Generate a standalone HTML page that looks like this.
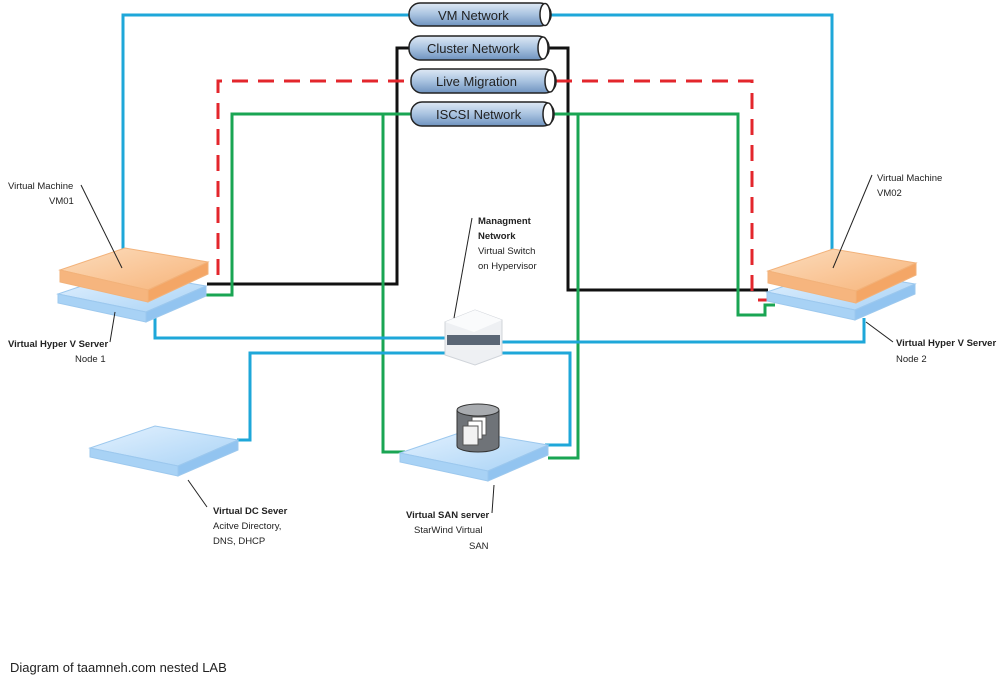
<!DOCTYPE html>
<html><head><meta charset="utf-8"><style>
body{margin:0;background:#fff;width:1001px;height:687px;overflow:hidden}
svg{display:block}
text{font-family:"Liberation Sans",sans-serif;font-size:9.5px;fill:#222}
.b{font-weight:bold}
</style></head><body>
<svg width="1001" height="687" viewBox="0 0 1001 687">
<defs>
<linearGradient id="pipe" x1="0" y1="0" x2="0" y2="1"><stop offset="0" stop-color="#dfe9f5"/><stop offset="0.5" stop-color="#a9c3e0"/><stop offset="1" stop-color="#6f93bf"/></linearGradient>
<linearGradient id="or" x1="0" y1="0" x2="1" y2="1"><stop offset="0" stop-color="#fcdcbc"/><stop offset="1" stop-color="#f7b47a"/></linearGradient>
<linearGradient id="bl" x1="0" y1="0" x2="1" y2="1"><stop offset="0" stop-color="#e3f1fe"/><stop offset="1" stop-color="#a9d3f6"/></linearGradient>
<g id="slabO">
<polygon points="0,22 65,0 148,14 88,42" fill="url(#or)" stroke="#f2b27a"/>
<polygon points="0,22 88,42 88,54 0,34" fill="#f6b57e" stroke="#f2b27a"/>
<polygon points="88,42 148,14 148,26 88,54" fill="#f4a666" stroke="#f2b27a"/>
</g>
<g id="slabB">
<polygon points="0,22 65,0 148,14 88,40" fill="url(#bl)" stroke="#9cc8ee"/>
<polygon points="0,22 88,40 88,50 0,31" fill="#a8d2f5" stroke="#9cc8ee"/>
<polygon points="88,40 148,14 148,24 88,50" fill="#92c4f0" stroke="#9cc8ee"/>
</g>
</defs>
<g fill="none" stroke-width="3">
<polyline stroke="#1ea7d9" points="123,252 123,15 409,15"/>
<polyline stroke="#1ea7d9" points="551,15 832,15 832,252"/>
<polyline stroke="#111" points="409,48 397,48 397,284 207,284"/>
<polyline stroke="#111" points="549,48 568,48 568,290 768,290"/>
<polyline stroke="#e3262c" stroke-dasharray="16,10" points="218,275 218,81 411,81"/>
<polyline stroke="#e3262c" stroke-dasharray="16,10" points="556,81 752,81 752,300"/>
<line stroke="#e3262c" x1="758" y1="300" x2="768" y2="300"/>
<polyline stroke="#1aa553" points="205,295 232,295 232,114 411,114"/>
<polyline stroke="#1aa553" points="554,114 738,114 738,315 765,315 765,305 775,305"/>
<polyline stroke="#1aa553" points="383,114 383,452 405,452"/>
<polyline stroke="#1aa553" points="578,114 578,458 548,458"/>
<polyline stroke="#1ea7d9" points="155,312 155,338 447,338"/>
<polyline stroke="#1ea7d9" points="498,342 864,342 864,318"/>
<polyline stroke="#1ea7d9" points="237,440 250,440 250,353 447,353"/>
<polyline stroke="#1ea7d9" points="500,353 570,353 570,445 545,445"/>
</g>
<g stroke="#222" stroke-width="1.5">
<rect x="409" y="3" width="142" height="23" rx="11" fill="url(#pipe)"/><ellipse cx="545" cy="14.5" rx="5" ry="11" fill="#fff"/>
<rect x="409" y="36" width="140" height="24" rx="11" fill="url(#pipe)"/><ellipse cx="543" cy="48" rx="5" ry="11" fill="#fff"/>
<rect x="411" y="69" width="145" height="24" rx="11" fill="url(#pipe)"/><ellipse cx="550" cy="81" rx="5" ry="11" fill="#fff"/>
<rect x="411" y="102" width="143" height="24" rx="11" fill="url(#pipe)"/><ellipse cx="548" cy="114" rx="5" ry="11" fill="#fff"/>
</g>
<text x="438" y="20" style="font-size:13px">VM Network</text>
<text x="427" y="53" style="font-size:13px">Cluster Network</text>
<text x="436" y="86" style="font-size:13px">Live Migration</text>
<text x="436" y="119" style="font-size:13px">ISCSI Network</text>
<use href="#slabB" x="58" y="272"/>
<use href="#slabO" x="60" y="248"/>
<use href="#slabB" x="767" y="270"/>
<use href="#slabO" x="768" y="249"/>
<use href="#slabB" x="90" y="426"/>
<use href="#slabB" x="400" y="431"/>
<polygon points="445,322 475,310 502,320 502,355 475,365 445,355" fill="#eef0f3" stroke="#d0d4da"/>
<polygon points="445,322 475,310 502,320 474,332" fill="#fafbfc"/>
<polygon points="447,335 500,335 500,345 447,345" fill="#5a6675"/>
<path d="M457,410 v36 a21,6 0 0 0 42,0 v-36" fill="#6f7378" stroke="#333"/>
<ellipse cx="478" cy="410" rx="21" ry="6" fill="#a8abaf" stroke="#333"/>
<rect x="472" y="417" width="14" height="18" fill="#fff" stroke="#555"/>
<rect x="468" y="421" width="14" height="18" fill="#fff" stroke="#555"/>
<rect x="463" y="426" width="15" height="19" fill="#f2f2f2" stroke="#555"/>
<g stroke="#222" stroke-width="1">
<line x1="81" y1="185" x2="122" y2="268"/>
<line x1="115" y1="312" x2="110" y2="342"/>
<line x1="872" y1="175" x2="833" y2="268"/>
<line x1="866" y1="322" x2="893" y2="342"/>
<line x1="472" y1="218" x2="454" y2="318"/>
<line x1="188" y1="480" x2="207" y2="507"/>
<line x1="494" y1="485" x2="492" y2="513"/>
</g>
<text x="8" y="189">Virtual Machine</text>
<text x="49" y="204">VM01</text>
<text x="8" y="347" class="b">Virtual Hyper V Server</text>
<text x="75" y="362">Node 1</text>
<text x="877" y="181">Virtual Machine</text>
<text x="877" y="196">VM02</text>
<text x="896" y="346" class="b">Virtual Hyper V Server</text>
<text x="896" y="362">Node 2</text>
<text x="478" y="224" class="b">Managment</text>
<text x="478" y="239" class="b">Network</text>
<text x="478" y="254">Virtual Switch</text>
<text x="478" y="269">on Hypervisor</text>
<text x="213" y="514" class="b">Virtual DC Sever</text>
<text x="213" y="529">Acitve Directory,</text>
<text x="213" y="544">DNS, DHCP</text>
<text x="406" y="518" class="b">Virtual SAN server</text>
<text x="414" y="533">StarWind Virtual</text>
<text x="469" y="549">SAN</text>
<text x="10" y="672" style="font-size:13px">Diagram of taamneh.com nested LAB</text>
</svg>
</body></html>
